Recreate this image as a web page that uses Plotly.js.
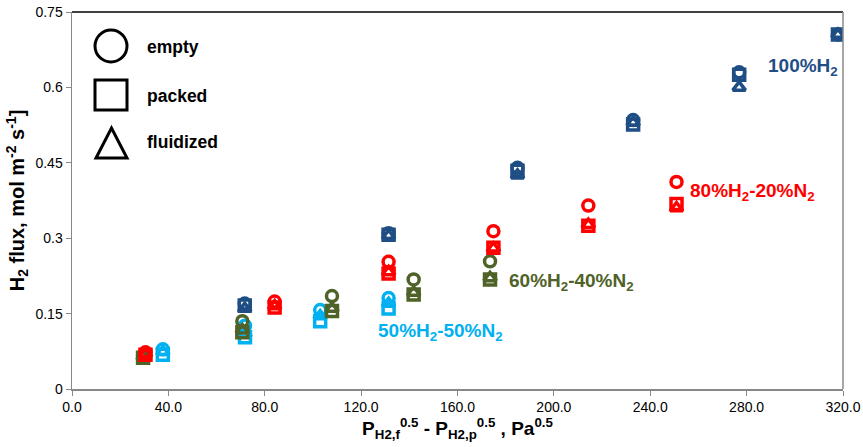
<!DOCTYPE html>
<html>
<head>
<meta charset="utf-8">
<script src="https://cdn.plot.ly/plotly-3.0.1.min.js"></script>
<style>html,body{margin:0;padding:0;background:#fff;}#chart{width:863px;height:447px;}</style>
</head>
<body>
<div id="chart"></div>
<script>
// 100% H2
const h100_x = [71.7, 131.4, 184.9, 232.9, 276.9, 317.9];
const h100_empty = [0.170, 0.310, 0.440, 0.535, 0.630, 0.705];
const h100_packed = [0.166, 0.307, 0.434, 0.526, 0.625, 0.705];
const h100_fluid = [0.160, 0.305, 0.425, 0.530, 0.600, 0.705];
// 80% H2 - 20% N2
const h80_x = [30.5, 84.1, 131.4, 174.9, 214.3, 250.9];
const h80_empty = [0.073, 0.174, 0.253, 0.314, 0.365, 0.412];
const h80_packed = [0.068, 0.162, 0.230, 0.281, 0.325, 0.368];
const h80_fluid = [0.070, 0.165, 0.233, 0.280, 0.327, 0.360];
// 60% H2 - 40% N2
const h60_x = [29.5, 70.7, 107.9, 141.8, 173.5];
const h60_empty = [0.066, 0.135, 0.185, 0.218, 0.254];
const h60_packed = [0.062, 0.113, 0.155, 0.188, 0.218];
const h60_fluid = [0.064, 0.117, 0.160, 0.192, 0.221];
// 50% H2 - 50% N2
const h50_x = [37.7, 71.8, 103.0, 131.4];
const h50_empty = [0.079, 0.126, 0.157, 0.181];
const h50_packed = [0.068, 0.103, 0.135, 0.160];
const h50_fluid = [0.074, 0.110, 0.145, 0.170];

const xTicks = [0, 40, 80, 120, 160, 200, 240, 280, 320];
const yTicks = [0, 0.15, 0.3, 0.45, 0.6, 0.75];
const yTickLabels = ['0', '0.15', '0.3', '0.45', '0.6', '0.75'];

const groups = [
  {name: '50%H<sub>2</sub>-50%N<sub>2</sub>', color: '#00B0F0', x: h50_x, e: h50_empty, p: h50_packed, f: h50_fluid, lx: 126, ly: 0.113},
  {name: '60%H<sub>2</sub>-40%N<sub>2</sub>', color: '#4F6228', x: h60_x, e: h60_empty, p: h60_packed, f: h60_fluid, lx: 180.7, ly: 0.212},
  {name: '80%H<sub>2</sub>-20%N<sub>2</sub>', color: '#FF0000', x: h80_x, e: h80_empty, p: h80_packed, f: h80_fluid, lx: 255.8, ly: 0.391},
  {name: '100%H<sub>2</sub>', color: '#1F4E85', x: h100_x, e: h100_empty, p: h100_packed, f: h100_fluid, lx: 288, ly: 0.641}
];

const traces = [];
const annotations = [];
groups.forEach(g => {
  [['e', 'circle-open', 11], ['p', 'square-open', 11], ['f', 'triangle-up-open', 11]].forEach(([k, sym, sz]) => {
    traces.push({
      type: 'scatter', mode: 'markers', x: g.x, y: g[k], showlegend: false,
      marker: {symbol: sym, size: sz, color: g.color, line: {width: 3.5, color: g.color}}
    });
  });
  annotations.push({x: g.lx, y: g.ly, xref: 'x', yref: 'y', xanchor: 'left', yanchor: 'middle',
    text: '<b>' + g.name + '</b>', showarrow: false, font: {family: 'Liberation Sans, Arial', size: 19, color: g.color}});
});

// legend (drawn in paper coords)
const legendItems = [['empty', 47], ['packed', 96], ['fluidized', 142]];
legendItems.forEach(([t, py]) => {
  annotations.push({xref: 'paper', yref: 'paper', x: (145 - 72) / 771, y: 1 - (py - 12) / 377, xanchor: 'left', yanchor: 'middle',
    text: '<b>' + t + '</b>', showarrow: false, font: {family: 'Liberation Sans, Arial', size: 17.5, color: '#000'}});
});
function px(x) { return (x - 72) / 771; }
function py(y) { return 1 - (y - 12) / 377; }
const shapes = [
  {type: 'circle', xref: 'paper', yref: 'paper', x0: px(95), x1: px(127), y0: py(62), y1: py(30), line: {color: '#000', width: 3}},
  {type: 'rect', xref: 'paper', yref: 'paper', x0: px(95), x1: px(127), y0: py(110), y1: py(80), line: {color: '#000', width: 3}},
  {type: 'path', xref: 'paper', yref: 'paper', path: 'M ' + px(96) + ' ' + py(158) + ' L ' + px(127) + ' ' + py(158) + ' L ' + px(111.5) + ' ' + py(128) + ' Z', line: {color: '#000', width: 3}},
  {type: 'line', xref: 'paper', yref: 'paper', x0: 0, x1: 1, y0: 1, y1: 1, line: {color: '#000', width: 1.5}},
  {type: 'line', xref: 'paper', yref: 'paper', x0: 1, x1: 1, y0: 0, y1: 1, line: {color: '#888', width: 1.5}}
];

const layout = {
  width: 863, height: 447,
  margin: {l: 72, r: 20, t: 12, b: 58},
  paper_bgcolor: '#fff', plot_bgcolor: '#fff',
  font: {family: 'Liberation Sans, Arial', color: '#000'},
  showlegend: false,
  xaxis: {
    range: [0, 320], tickvals: xTicks, ticktext: xTicks.map(v => v.toFixed(1)),
    showgrid: false, zeroline: false, showline: true, linecolor: '#888', linewidth: 1.5,
    ticks: 'outside', ticklen: 5, tickcolor: '#888', tickfont: {size: 14, color: '#000'},
    title: {text: '<b>P<sub>H2,f</sub><sup>0.5</sup> - P<sub>H2,p</sub><sup>0.5</sup> , Pa<sup>0.5</sup></b>', font: {size: 19}, standoff: 2}
  },
  yaxis: {
    range: [0, 0.75], tickvals: yTicks, ticktext: yTickLabels,
    showgrid: false, zeroline: false, showline: true, linecolor: '#888', linewidth: 1.5,
    ticks: 'outside', ticklen: 5, tickcolor: '#888', tickfont: {size: 14, color: '#000'},
    title: {text: '<b>H<sub>2</sub> flux, mol m<sup>-2</sup> s<sup>-1</sup>]</b>', font: {size: 20}, standoff: 5}
  },
  annotations: annotations,
  shapes: shapes
};

Plotly.newPlot('chart', traces, layout, {displayModeBar: false, staticPlot: true});
</script>
</body>
</html>
